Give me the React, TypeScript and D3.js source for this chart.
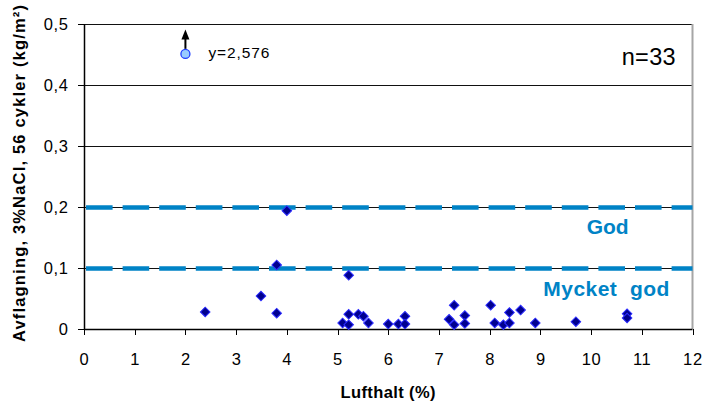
import React from "react";
import * as d3 from "d3";

const airContent = [2.39, 3.49, 3.8, 3.8, 4.0, 5.1, 5.22, 5.22, 5.22, 5.41, 5.51, 5.61, 6.0, 6.2, 6.33, 6.33, 7.2, 7.3, 7.3, 7.51, 7.51, 8.02, 8.1, 8.27, 8.39, 8.39, 8.61, 8.9, 9.7, 10.71, 10.71];
const scaling = [0.028, 0.054, 0.105, 0.026, 0.194, 0.01, 0.088, 0.024, 0.007, 0.024, 0.021, 0.01, 0.008, 0.008, 0.021, 0.008, 0.016, 0.039, 0.007, 0.022, 0.009, 0.039, 0.01, 0.007, 0.01, 0.027, 0.031, 0.01, 0.012, 0.025, 0.018];
const outlierX = [2];
const outlierY = [0.451];
const outlierLabel = ["y=2,576"];
const limitValues = [0.1, 0.2];
const limitLabels = ["Mycket  god", "God"];
const xTicks = [0, 1, 2, 3, 4, 5, 6, 7, 8, 9, 10, 11, 12];
const yTicks = [0, 0.1, 0.2, 0.3, 0.4, 0.5];
const countLabel = "n=33";

export default function App() {
  const x = d3.scaleLinear().domain([0, 12]).range([84, 692.5]);
  const y = d3.scaleLinear().domain([0, 0.5]).range([329, 24]);
  const locale = d3.formatLocale({ decimal: ",", thousands: " ", grouping: [3], currency: ["", ""] });
  const fmt = (v: number) => (v === 0 ? "0" : locale.format(".1f")(v));
  const diamond = d3.symbol().type(d3.symbolSquare).size(46)() as string;
  const blue = "#0083C6";
  const font = "Arial, 'Liberation Sans', sans-serif";
  const [x0, x1] = x.range();
  const [yb, yt] = y.range();
  const crisp = (v: number) => Math.round(v) + 0.5;

  return (
    <svg width={704} height={401} style={{ position: "absolute", left: 0, top: 0, background: "#fff" }} fontFamily={font}>
      {yTicks.filter((t) => t > 0).map((t) => (
        <line key={"g" + t} x1={x0} x2={x1} y1={crisp(y(t))} y2={crisp(y(t))} stroke="#111" strokeWidth={1} />
      ))}
      <line x1={x1} x2={x1} y1={yt} y2={yb} stroke="#a6a6a6" strokeWidth={2} />
      {limitValues.map((v) => (
        <line key={"l" + v} x1={x0} x2={x1} y1={crisp(y(v))} y2={crisp(y(v))} stroke={blue} strokeWidth={4.5} strokeDasharray="26.6,10" strokeDashoffset={-2} />
      ))}
      <line x1={crisp(x0)} x2={crisp(x0)} y1={yt} y2={yb} stroke="#000" strokeWidth={1.5} />
      <line x1={x0} x2={x1} y1={crisp(yb)} y2={crisp(yb)} stroke="#000" strokeWidth={1.5} />
      {yTicks.map((t) => (
        <g key={"yt" + t}>
          <line x1={x0 - 6} x2={x0} y1={crisp(y(t))} y2={crisp(y(t))} stroke="#000" strokeWidth={1} />
          <text x={68.5} y={y(t)} dy="0.36em" textAnchor="end" fontSize={16.5} letterSpacing={0.6} fill="#000">{fmt(t)}</text>
        </g>
      ))}
      {xTicks.map((t) => (
        <g key={"xt" + t}>
          <line x1={crisp(x(t))} x2={crisp(x(t))} y1={yb} y2={yb + 6} stroke="#000" strokeWidth={1} />
          <text x={x(t) + 0.4} y={365} textAnchor="middle" fontSize={16.5} letterSpacing={0.6} fill="#000">{String(t)}</text>
        </g>
      ))}
      {airContent.map((a, i) => (
        <path key={"p" + i} d={diamond} transform={`translate(${x(a)},${y(scaling[i])}) rotate(45)`} fill="#00008F" stroke="#2b2bff" strokeWidth={1} />
      ))}
      {outlierX.map((a, i) => {
        const cx = x(a);
        const cy = y(outlierY[i]);
        return (
          <g key={"o" + i}>
            <line x1={cx} x2={cx} y1={cy - 5} y2={cy - 15} stroke="#000" strokeWidth={2} />
            <path d={`M${cx},${cy - 24.5} L${cx - 4},${cy - 14.5} L${cx + 4},${cy - 14.5} Z`} fill="#000" />
            <circle cx={cx} cy={cy} r={4.5} fill="#99CCFF" stroke="#1f3fff" strokeWidth={1.3} />
            <text x={cx + 23} y={cy + 4.5} fontSize={15.5} textLength={61} lengthAdjust="spacing" fill="#000">{outlierLabel[i]}</text>
          </g>
        );
      })}
      <text x={543.3} y={296} fontSize={21} fontWeight="bold" fill={blue} textLength={126} lengthAdjust="spacing" style={{ whiteSpace: "pre" }}>{limitLabels[0]}</text>
      <text x={586.7} y={234} fontSize={21} fontWeight="bold" fill={blue} textLength={42} lengthAdjust="spacing">{limitLabels[1]}</text>
      <text x={621.7} y={65} fontSize={23.5} fill="#000" textLength={54} lengthAdjust="spacing">{countLabel}</text>
      <text x={340.5} y={397.5} fontSize={16.5} fontWeight="bold" fill="#000" textLength={95} lengthAdjust="spacing">Lufthalt (%)</text>
      <text transform="translate(24.5,342) rotate(-90)" x={0} y={0} fontSize={16.5} fontWeight="bold" fill="#000" textLength={337} lengthAdjust="spacing">Avflagning, 3%NaCl, 56 cykler (kg/m²)</text>
    </svg>
  );
}
